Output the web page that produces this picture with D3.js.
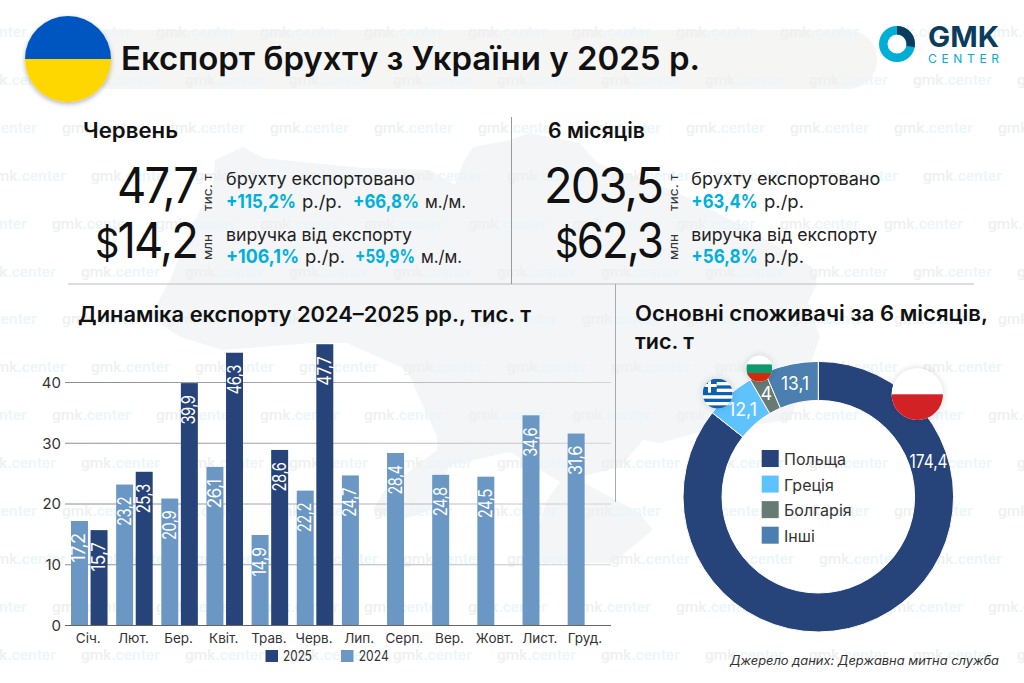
<!DOCTYPE html>
<html lang="uk">
<head>
<meta charset="utf-8">
<script src="https://cdn.jsdelivr.net/npm/d3@7"></script>
<style>
  html, body { margin: 0; background: #fff; }
  svg { display: block; font-family: Inter, "Noto Sans", sans-serif; }
</style>
</head>
<body>
<svg id="chart" width="1024" height="683"></svg>
<script>
// Chart data.
var months = ['Січ.', 'Лют.', 'Бер.', 'Квіт.', 'Трав.', 'Черв.', 'Лип.', 'Серп.', 'Вер.', 'Жовт.', 'Лист.', 'Груд.'];
var values2024 = [17.2, 23.2, 20.9, 26.1, 14.9, 22.2, 24.7, 28.4, 24.8, 24.5, 34.6, 31.6];
var values2025 = [15.7, 25.3, 39.9, 46.3, 28.6, 47.7];
// The two tallest bars are drawn shorter than their labels in the original.
var heights2025 = [15.7, 25.3, 39.9, 44.9, 28.9, 46.3];
var yTicks = [0, 10, 20, 30, 40];
var consumers = ['Польща', 'Греція', 'Болгарія', 'Інші'];
var consumerValues = [174.4, 12.1, 4, 13.1];
var consumerColors = ['#27447a', '#5ec2ff', '#677a74', '#4a7fb0'];
var color2024 = '#6a97c3';
var color2025 = '#27447a';
var cyan = '#00b0dc';

var svg = d3.select('#chart');
var defs = svg.append('defs');

function label(parent, x, y, str, size, weight, fill, anchor, width) {
  var t = parent.append('text')
    .attr('x', x).attr('y', y)
    .attr('font-size', size)
    .attr('font-weight', weight || 400)
    .attr('fill', fill || '#111')
    .attr('text-anchor', anchor || 'start')
    .text(str);
  if (width) t.attr('textLength', width).attr('lengthAdjust', 'spacingAndGlyphs');
  return t;
}

// Filters and gradients
var shadow = defs.append('filter').attr('id', 'shadow')
  .attr('x', '-30%').attr('y', '-30%').attr('width', '160%').attr('height', '160%');
shadow.append('feDropShadow').attr('dx', 0).attr('dy', 2).attr('stdDeviation', 2.5)
  .attr('flood-color', '#000').attr('flood-opacity', 0.3);
var halo = defs.append('filter').attr('id', 'halo')
  .attr('x', '-50%').attr('y', '-50%').attr('width', '200%').attr('height', '200%');
halo.append('feDropShadow').attr('dx', 0).attr('dy', 0).attr('stdDeviation', 3.5)
  .attr('flood-color', '#000').attr('flood-opacity', 0.16);
var gridFade = defs.append('linearGradient').attr('id', 'gridFade')
  .attr('gradientUnits', 'userSpaceOnUse')
  .attr('x1', 65).attr('x2', 611).attr('y1', 0).attr('y2', 0);
gridFade.append('stop').attr('offset', 0).attr('stop-color', '#8c8c8c');
gridFade.append('stop').attr('offset', 1).attr('stop-color', '#d4d4d4');

// Background: map, title band, watermark
svg.append('path')
  .attr('fill', '#f3f5f7')
  .attr('d', 'M215,160 L243,147 L263,158 L363,168 L430,170 L455,185 L463,163 L473,147 L510,140 L529,133 ' +
    'L580,143 L597,163 L672,190 L745,227 L812,267 L817,283 L808,303 L820,337 L790,420 L700,432 L660,443 ' +
    'L643,440 L620,467 L575,478 L640,513 L653,530 L613,563 L527,563 L547,500 L560,482 L510,452 L450,465 ' +
    'L430,510 L395,522 L373,510 L385,490 L437,450 L437,437 L407,370 L347,343 L313,343 L223,350 ' +
    'L180,337 L150,317 L163,293 L170,280 L190,230 L213,185 Z');

svg.append('rect')
  .attr('x', 80).attr('y', 30).attr('width', 797).attr('height', 59).attr('rx', 29)
  .attr('fill', '#f5f5f4');

var watermarkOffsets = [52, 81, 62, 91];
var watermark = svg.append('g').attr('font-family', 'Roboto').attr('font-weight', 500).attr('font-size', 15.5);
d3.range(14).forEach(function(row) {
  d3.range(-1, 10).forEach(function(col) {
    var t = watermark.append('text')
      .attr('x', watermarkOffsets[row % 4] + col * 104)
      .attr('y', 37 + row * 47.9);
    t.append('tspan').attr('fill', '#eef0f0').text('gmk');
    t.append('tspan').attr('fill', '#ebf6fa').text('.center');
  });
});

// Header
var flag = svg.append('g').attr('filter', 'url(#shadow)');
defs.append('clipPath').attr('id', 'uaClip').append('circle').attr('cx', 68).attr('cy', 59).attr('r', 43);
var flagInner = flag.append('g').attr('clip-path', 'url(#uaClip)');
flagInner.append('rect').attr('x', 25).attr('y', 16).attr('width', 86).attr('height', 43).attr('fill', '#0057c0');
flagInner.append('rect').attr('x', 25).attr('y', 59).attr('width', 86).attr('height', 43).attr('fill', '#ffd700');
label(svg, 121, 70, 'Експорт брухту з України у 2025 р.', 32, 600, '#111', 'start', 579);

// Logo
var logoArc = d3.arc().innerRadius(9.5).outerRadius(18);
var logo = svg.append('g').attr('transform', 'translate(897,44)');
logo.append('path').attr('fill', '#00aed6').attr('d', logoArc({ startAngle: 0, endAngle: Math.PI * 2 }));
logo.append('path').attr('fill', '#0b3c5d').attr('d', logoArc({ startAngle: 0, endAngle: 1.75 }));
label(svg, 928, 47, 'GMK', 29, 700, '#0b3c5d', 'start', 71);
label(svg, 928, 63, 'CENTER', 12, 400, '#00aed6').attr('textLength', 71).attr('lengthAdjust', 'spacing');

// Separators
var rules = svg.append('g').attr('stroke', '#bdbdbd').attr('stroke-width', 1);
rules.append('line').attr('x1', 68).attr('x2', 974).attr('y1', 284).attr('y2', 284);
rules.append('line').attr('x1', 511.5).attr('x2', 511.5).attr('y1', 117).attr('y2', 284).attr('stroke', '#999');
rules.append('line').attr('x1', 615.5).attr('x2', 615.5).attr('y1', 284).attr('y2', 502).attr('stroke', '#aaa');

// Key figures
label(svg, 83, 138, 'Червень', 21, 600, '#111', 'start', 95);
label(svg, 548, 138, '6 місяців', 21, 600, '#111', 'start', 97);

function bigNumber(x, y, str, width) {
  var t = label(svg, x, y, '', 49, 400, '#111', 'end', width).attr('letter-spacing', -2);
  if (str.charAt(0) === '$') {
    t.append('tspan').attr('font-size', 41).text('$');
    t.append('tspan').text(str.slice(1));
  } else {
    t.text(str);
  }
}
function sideUnit(x, y, str, width) {
  label(svg, 0, 0, str, 12.5, 400, '#333', 'start', width)
    .attr('transform', 'translate(' + x + ',' + y + ') rotate(-90)');
}
bigNumber(197, 203, '47,7', 80);
bigNumber(197, 258, '$14,2', 102);
bigNumber(662, 203, '203,5', 118);
bigNumber(662, 258, '$62,3', 107);
sideUnit(212, 211, 'тис. т', 37);
sideUnit(212, 260, 'млн', 26);
sideUnit(678, 211, 'тис. т', 37);
sideUnit(678, 260, 'млн', 26);

label(svg, 226, 185, 'брухту експортовано', 17.5, 400, '#222', 'start', 189);
label(svg, 226, 240.7, 'виручка від експорту', 17.5, 400, '#222', 'start', 186);
label(svg, 691.3, 185, 'брухту експортовано', 17.5, 400, '#222', 'start', 189);
label(svg, 691.3, 240.7, 'виручка від експорту', 17.5, 400, '#222', 'start', 186);

label(svg, 226, 207.5, '+115,2%', 19, 700, cyan, 'start', 70);
label(svg, 302, 207.5, 'р./р.', 17.5, 400, '#222', 'start', 40);
label(svg, 353, 207.5, '+66,8%', 19, 700, cyan, 'start', 66);
label(svg, 425, 207.5, 'м./м.', 17.5, 400, '#222', 'start', 41);
label(svg, 226, 262.7, '+106,1%', 19, 700, cyan, 'start', 73);
label(svg, 305, 262.7, 'р./р.', 17.5, 400, '#222', 'start', 40);
label(svg, 355, 262.7, '+59,9%', 19, 700, cyan, 'start', 60);
label(svg, 421, 262.7, 'м./м.', 17.5, 400, '#222', 'start', 41);
label(svg, 691.3, 207.5, '+63,4%', 19, 700, cyan, 'start', 66.5);
label(svg, 764, 207.5, 'р./р.', 17.5, 400, '#222', 'start', 40);
label(svg, 691.3, 262.7, '+56,8%', 19, 700, cyan, 'start', 66.5);
label(svg, 764, 262.7, 'р./р.', 17.5, 400, '#222', 'start', 40);

// Bar chart
label(svg, 78, 321.7, 'Динаміка експорту 2024–2025 рр., тис. т', 21, 600, '#111', 'start', 453);

var x = d3.scaleBand().domain(months).range([66.7, 608.5]);
var series = d3.scaleBand().domain(['2024', '2025']).range([0, x.bandwidth()])
  .paddingInner(0.133).paddingOuter(0.22);
var y = d3.scaleLinear().domain([0, 40]).range([625.5, 382.5]);

var yAxis = d3.axisLeft(y).tickValues(yTicks).tickSize(0).tickPadding(4);
var yAxisG = svg.append('g').attr('transform', 'translate(65,0)').call(yAxis);
yAxisG.select('.domain').remove();
yAxisG.selectAll('text').attr('font-size', 15).attr('font-family', 'Inter').attr('fill', '#333');

svg.append('g').selectAll('line').data(yTicks.slice(1)).join('line')
  .attr('x1', 65).attr('x2', 611)
  .attr('y1', function(d) { return y(d) + 0.01; })
  .attr('y2', function(d) { return y(d); })
  .attr('stroke', 'url(#gridFade)').attr('stroke-width', 1.2);

var bars = svg.append('g');
function drawSeries(name, heights, shown, color) {
  var g = bars.append('g').selectAll('g').data(heights).join('g');
  g.append('rect')
    .attr('x', function(d, i) { return x(months[i]) + series(name); })
    .attr('y', function(d) { return y(d); })
    .attr('width', series.bandwidth())
    .attr('height', function(d) { return y(0) - y(d); })
    .attr('fill', color);
  g.append('text')
    .attr('transform', function(d, i) {
      var cx = x(months[i]) + series(name) + series.bandwidth() / 2 + 6;
      return 'translate(' + cx + ',' + (y(d) + 12.5) + ') rotate(-90)';
    })
    .attr('text-anchor', 'end')
    .attr('font-size', 18)
    .attr('fill', '#fff')
    .attr('letter-spacing', -0.6)
    .attr('textLength', 29)
    .attr('lengthAdjust', 'spacingAndGlyphs')
    .text(function(d, i) { return String(shown[i]).replace('.', ','); });
}
drawSeries('2024', values2024, values2024, color2024);
drawSeries('2025', heights2025, values2025, color2025);

var xAxis = d3.axisBottom(x).tickSize(0).tickPadding(8);
var xAxisG = svg.append('g').attr('transform', 'translate(-1,' + y(0) + ')').call(xAxis);
xAxisG.select('.domain').remove();
xAxisG.selectAll('text').attr('font-size', 13.5).attr('font-family', 'Inter').attr('fill', '#333');
svg.append('line').attr('x1', 65).attr('x2', 611).attr('y1', y(0)).attr('y2', y(0))
  .attr('stroke', '#666').attr('stroke-width', 1.2);

svg.append('rect').attr('x', 265.5).attr('y', 650).attr('width', 12.5).attr('height', 12).attr('fill', color2025);
label(svg, 283, 661, '2025', 14, 400, '#333', 'start', 29);
svg.append('rect').attr('x', 341).attr('y', 650).attr('width', 12.5).attr('height', 12).attr('fill', color2024);
label(svg, 358.7, 661, '2024', 14, 400, '#333', 'start', 30);

// Donut
label(svg, 635, 320.7, 'Основні споживачі за 6 місяців,', 21, 600, '#111', 'start', 353);
label(svg, 635, 349, 'тис. т', 21, 600, '#111', 'start', 59);

var pie = d3.pie().sort(null);
var arc = d3.arc().innerRadius(96.3).outerRadius(135.3);
var donut = svg.append('g').attr('transform', 'translate(818.3,496.7)');
var slices = pie(consumerValues);
donut.selectAll('path').data(slices).join('path')
  .attr('d', arc)
  .attr('fill', function(d, i) { return consumerColors[i]; })
  .attr('stroke', '#fff').attr('stroke-width', 1);

// Poland's label sits near the top of its long slice, not at the slice middle.
var labelWidths = [38, 29, 0, 28];
donut.selectAll('text').data(slices).join('text')
  .attr('transform', function(d, i) {
    var c = i === 0 ? arc.centroid({ startAngle: 1.26, endAngle: 1.26 }) : arc.centroid(d);
    return 'translate(' + c + ')';
  })
  .attr('dy', '0.36em')
  .attr('text-anchor', 'middle')
  .attr('font-size', 18)
  .attr('fill', '#fff')
  .each(function(d, i) {
    if (labelWidths[i]) d3.select(this).attr('textLength', labelWidths[i]).attr('lengthAdjust', 'spacingAndGlyphs');
  })
  .text(function(d) { return String(d.value).replace('.', ','); });

var legendY = d3.scalePoint().domain(consumers).range([450, 526.7]);
var legend = svg.append('g').selectAll('g').data(consumers).join('g');
legend.append('rect')
  .attr('x', 761.7).attr('y', function(d) { return legendY(d); })
  .attr('width', 17).attr('height', 17)
  .attr('fill', function(d, i) { return consumerColors[i]; });
legend.append('text')
  .attr('x', 784).attr('y', function(d) { return legendY(d) + 15; })
  .attr('font-size', 16).attr('fill', '#333')
  .text(function(d) { return d; });

// Flags on the donut
function flagStripes(id, cx, cy, r, stripes) {
  defs.append('clipPath').attr('id', id).append('circle').attr('cx', cx).attr('cy', cy).attr('r', r);
  var outer = svg.append('g').attr('filter', 'url(#halo)');
  outer.append('circle').attr('cx', cx).attr('cy', cy).attr('r', r).attr('fill', '#fff');
  var g = outer.append('g').attr('clip-path', 'url(#' + id + ')');
  var h = 2 * r / stripes.length;
  stripes.forEach(function(c, i) {
    g.append('rect').attr('x', cx - r).attr('y', cy - r + i * h)
      .attr('width', 2 * r).attr('height', h + 0.2).attr('fill', c);
  });
  return g;
}
flagStripes('plClip', 917.3, 394.3, 25.7, ['#fff', '#d22027']);
flagStripes('bgClip', 759.3, 368.7, 13, ['#fff', '#0a9a6e', '#d3290f']);
var gr = flagStripes('grClip', 717.7, 393.7, 15,
  ['#0d5eaf', '#fff', '#0d5eaf', '#fff', '#0d5eaf', '#fff', '#0d5eaf', '#fff', '#0d5eaf']);
gr.append('rect').attr('x', 702.7).attr('y', 378.7).attr('width', 14).attr('height', 14).attr('fill', '#0d5eaf');
gr.append('rect').attr('x', 708).attr('y', 378.7).attr('width', 3).attr('height', 14).attr('fill', '#fff');
gr.append('rect').attr('x', 702.7).attr('y', 384).attr('width', 14).attr('height', 3).attr('fill', '#fff');

// Source
label(svg, 730, 665, 'Джерело даних: Державна митна служба', 12.5, 400, '#333', 'start', 269)
  .attr('font-style', 'italic');
</script>
</body>
</html>
